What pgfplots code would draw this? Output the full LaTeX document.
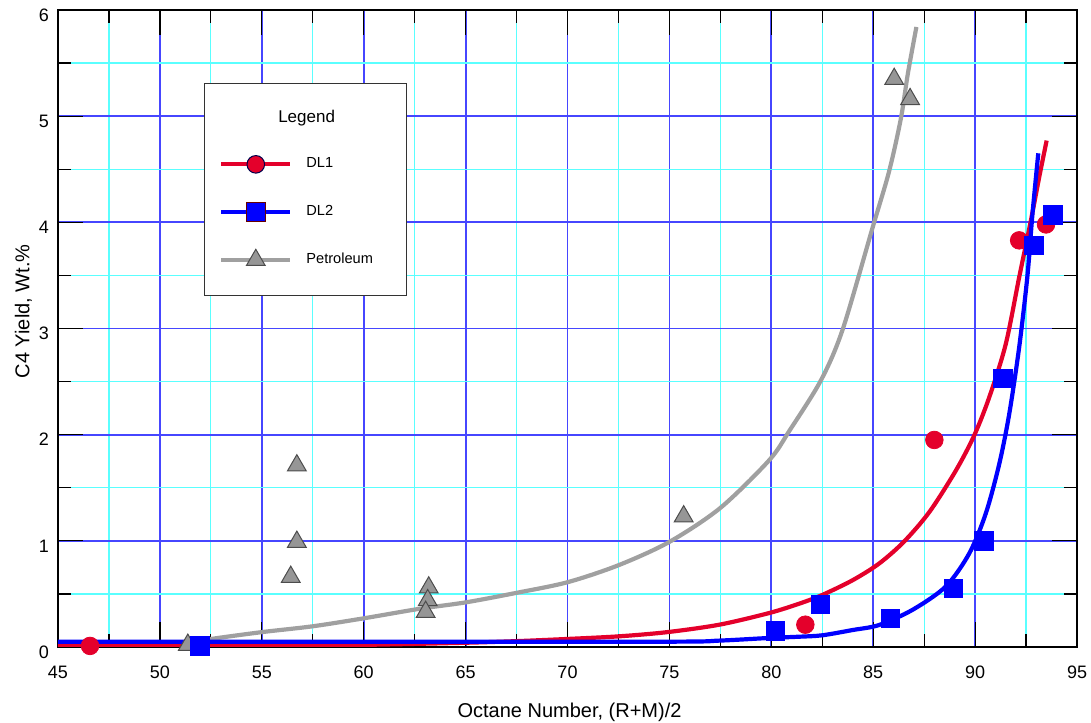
\documentclass[border=0pt]{standalone}
\usepackage{fontspec}
\setmainfont{Liberation Sans}
\usepackage{pgfplots}
\pgfplotsset{compat=1.18}
\definecolor{dlred}{RGB}{228,0,43}
\definecolor{dlblue}{RGB}{0,0,255}
\definecolor{petgray}{RGB}{160,160,160}
\definecolor{trifill}{RGB}{150,150,150}
\definecolor{gridblue}{RGB}{70,70,255}
\definecolor{gridcyan}{RGB}{90,255,255}
\pgfplotstableread{
x y
52 0.05
52.5 0.075
55 0.14
57.5 0.195
60 0.27
62.75 0.36
65 0.42
67.5 0.51
70 0.61
72.5 0.77
75 0.99
77.5 1.31
79.9 1.76
80.9 2.04
82.43 2.51
83.5 2.99
84.97 3.95
85.78 4.48
86.36 4.98
86.7 5.40
87.12 5.84
}\petcurve
\pgfplotstableread{
x y
45 0.01
50 0.01
55 0.012
60 0.02
65 0.04
67.5 0.055
69.93 0.075
72.5 0.10
74.9 0.14
77.45 0.21
79.9 0.32
81.4 0.41
82.5 0.49
84 0.63
85.29 0.786
86.5 0.99
87.75 1.27
89.05 1.66
89.95 1.99
90.69 2.35
91.5 2.85
92.16 3.48
92.73 4.01
93.14 4.42
93.51 4.77
}\redcurve
\pgfplotstableread{
x y
45 0.05
60 0.05
75 0.05
77.45 0.06
79.9 0.085
81.4 0.097
82.5 0.11
84 0.16
85.29 0.207
86.93 0.35
88.56 0.57
89.71 0.88
90.52 1.255
91.18 1.72
91.67 2.19
92.16 2.82
92.57 3.50
92.81 4.07
93.10 4.65
}\bluecurve
\pgfplotstableread{
x y
46.57 0.01
81.67 0.21
88.0 1.95
92.16 3.83
93.48 3.98
}\redpts
\pgfplotstableread{
x y
51.96 0.01
80.2 0.15
82.4 0.40
85.83 0.27
88.92 0.55
90.44 1.00
91.37 2.53
92.89 3.78
93.82 4.07
}\bluepts
\pgfplotstableread{
x y
51.37 0.02
56.72 1.71
56.72 0.99
56.42 0.66
63.19 0.56
63.14 0.44
63.04 0.33
75.70 1.23
86.03 5.35
86.81 5.16
}\petpts
\begin{document}
\begin{tikzpicture}
\begin{axis}[
  scale only axis,
  width=509.5pt, height=318.5pt,
  xmin=45, xmax=95, ymin=0, ymax=6,
  xtick={45,50,...,95}, ytick={0,1,...,6},
  minor x tick num=1, minor y tick num=1,
  grid=both,
  major grid style={color=gridblue, line width=0.9pt},
  minor grid style={color=gridcyan, line width=0.6pt},
  major tick length=12.5pt, minor tick length=6.5pt,
  tick style={black, line width=0.6pt},
  axis line style={black, line width=0.7pt},
  tick align=inside,
  /pgf/number format/assume math mode=true,
  ticklabel style={font=\fontsize{9}{11}\selectfont},
  xticklabel style={yshift=-6pt},
  yticklabel style={yshift=-2.5pt, xshift=-1pt},
  xlabel={Octane Number, (R+M)/2},
  ylabel={C4 Yield, Wt.\%},
  label style={font=\fontsize{8.5}{10}\selectfont},
  every axis x label/.style={at={(axis description cs:0.502,-0.102)}, anchor=center},
  every axis y label/.style={at={(axis description cs:-0.034,0.527)}, anchor=center, rotate=90},
  legend cell align=left,
  legend style={at={(axis cs:52.89,4.094)}, anchor=west, draw=none, fill=none,
    inner sep=0pt, row sep=13.3pt, font=\fontsize{7.3}{9}\selectfont,
    /tikz/every odd column/.append style={column sep=5pt}},
  legend image code/.code={\draw[mark repeat=2,mark phase=2,#1] plot coordinates {(0pt,0pt) (17.25pt,0pt) (34.5pt,0pt)};},
]
\addplot[petgray, line width=2.1pt, smooth, forget plot] table {\petcurve};
\addplot[only marks, mark=triangle*, mark size=5.4pt, mark options={fill=trifill, draw=black!70, line width=0.5pt}, forget plot] table {\petpts};
\addplot[dlred, line width=2.1pt, smooth, forget plot] table {\redcurve};
\addplot[dlblue, line width=2.1pt, smooth, forget plot] table {\bluecurve};
\addplot[only marks, mark=*, mark size=4.4pt, mark options={fill=dlred, draw=dlred}, forget plot] table {\redpts};
\addplot[only marks, mark=square*, mark size=4.6pt, mark options={fill=dlblue, draw=dlblue}, forget plot] table {\bluepts};
\draw[fill=white, draw=black!80, line width=0.6pt] (axis cs:52.2,5.31) rectangle (axis cs:62.1,3.31);
\node[font=\fontsize{8.5}{10}\selectfont] at (axis cs:57.2,4.98) {Legend};
\addlegendimage{dlred, line width=2.1pt, mark=*, mark size=4.4pt, mark options={fill=dlred, draw=black!70!blue, line width=0.5pt}}
\addlegendentry{DL1}
\addlegendimage{dlblue, line width=2.1pt, mark=square*, mark size=4.6pt, mark options={fill=dlblue, draw=black!60!red, line width=0.5pt}}
\addlegendentry{DL2}
\addlegendimage{petgray, line width=2.1pt, mark=triangle*, mark size=5.4pt, mark options={fill=trifill, draw=black!70, line width=0.5pt}}
\addlegendentry{Petroleum}
\end{axis}
\pgfresetboundingbox
\path[use as bounding box] ([xshift=-29pt,yshift=-38pt]current axis.south west) rectangle ([xshift=7pt,yshift=5pt]current axis.north east);
\end{tikzpicture}
\end{document}
